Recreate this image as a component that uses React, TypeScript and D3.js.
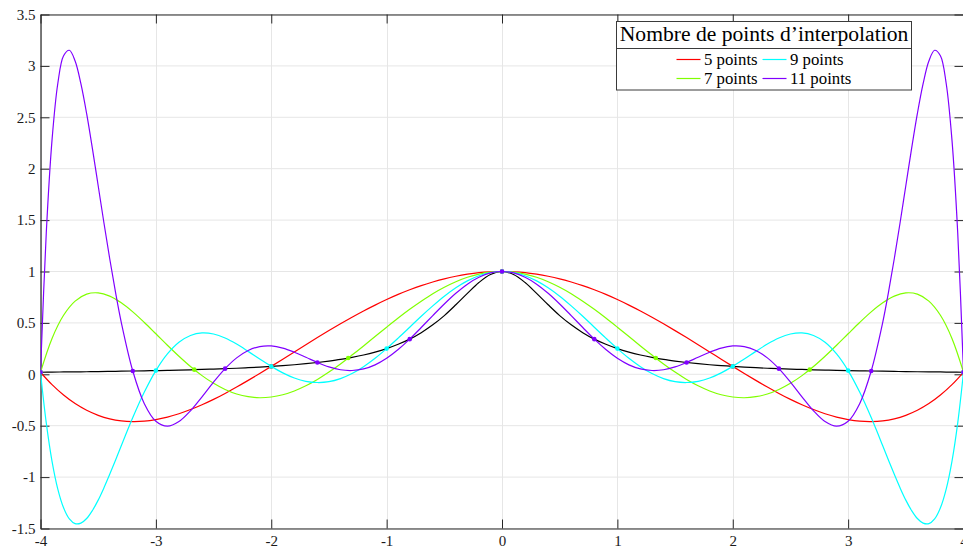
import { useEffect, useRef } from 'react'
import * as d3 from 'd3'

// abscissas for the exact function and the 5 / 7 point polynomials
const xGrid = [-4, -3.9, -3.8, -3.7, -3.6, -3.5, -3.4, -3.3, -3.2, -3.1, -3, -2.9, -2.8, -2.7, -2.6, -2.5, -2.4, -2.3, -2.2, -2.1, -2, -1.9, -1.8, -1.7, -1.6, -1.5, -1.4, -1.3, -1.2, -1.1, -1, -0.9, -0.8, -0.7, -0.6, -0.5, -0.4, -0.3, -0.2, -0.1, 0, 0.1, 0.2, 0.3, 0.4, 0.5, 0.6, 0.7, 0.8, 0.9, 1, 1.1, 1.2, 1.3, 1.4, 1.5, 1.6, 1.7, 1.8, 1.9, 2, 2.1, 2.2, 2.3, 2.4, 2.5, 2.6, 2.7, 2.8, 2.9, 3, 3.1, 3.2, 3.3, 3.4, 3.5, 3.6, 3.7, 3.8, 3.9, 4]

// finer abscissas near the edges for the 9 / 11 point polynomials
const xFine = [-4, -3.95, -3.9, -3.85, -3.8, -3.75, -3.7, -3.65, -3.6, -3.55, -3.5, -3.45, -3.4, -3.35, -3.3, -3.2, -3.1, -3, -2.9, -2.8, -2.7, -2.6, -2.5, -2.4, -2.3, -2.2, -2.1, -2, -1.9, -1.8, -1.7, -1.6, -1.5, -1.4, -1.3, -1.2, -1.1, -1, -0.9, -0.8, -0.7, -0.6, -0.5, -0.4, -0.3, -0.2, -0.1, 0, 0.1, 0.2, 0.3, 0.4, 0.5, 0.6, 0.7, 0.8, 0.9, 1, 1.1, 1.2, 1.3, 1.4, 1.5, 1.6, 1.7, 1.8, 1.9, 2, 2.1, 2.2, 2.3, 2.4, 2.5, 2.6, 2.7, 2.8, 2.9, 3, 3.1, 3.2, 3.3, 3.35, 3.4, 3.45, 3.5, 3.55, 3.6, 3.65, 3.7, 3.75, 3.8, 3.85, 3.9, 3.95, 4]

const runge = [0.020, 0.021, 0.023, 0.024, 0.025, 0.026, 0.028, 0.030, 0.032, 0.034, 0.036, 0.038, 0.041, 0.044, 0.047, 0.051, 0.055, 0.059, 0.064, 0.070, 0.077, 0.085, 0.093, 0.103, 0.115, 0.129, 0.145, 0.165, 0.188, 0.216, 0.250, 0.292, 0.342, 0.405, 0.481, 0.571, 0.676, 0.787, 0.893, 0.971, 1.000, 0.971, 0.893, 0.787, 0.676, 0.571, 0.481, 0.405, 0.342, 0.292, 0.250, 0.216, 0.188, 0.165, 0.145, 0.129, 0.115, 0.103, 0.093, 0.085, 0.077, 0.070, 0.064, 0.059, 0.055, 0.051, 0.047, 0.044, 0.041, 0.038, 0.036, 0.034, 0.032, 0.030, 0.028, 0.026, 0.025, 0.024, 0.023, 0.021, 0.020]

const interp5 = [0.020, -0.101, -0.202, -0.285, -0.350, -0.399, -0.433, -0.453, -0.460, -0.456, -0.441, -0.417, -0.384, -0.343, -0.296, -0.244, -0.186, -0.124, -0.059, 0.008, 0.077, 0.147, 0.218, 0.288, 0.357, 0.425, 0.491, 0.555, 0.616, 0.673, 0.727, 0.777, 0.822, 0.863, 0.898, 0.929, 0.954, 0.974, 0.989, 0.997, 1.000, 0.997, 0.989, 0.974, 0.954, 0.929, 0.898, 0.863, 0.822, 0.777, 0.727, 0.673, 0.616, 0.555, 0.491, 0.425, 0.357, 0.288, 0.218, 0.147, 0.077, 0.008, -0.059, -0.124, -0.186, -0.244, -0.296, -0.343, -0.384, -0.417, -0.441, -0.456, -0.460, -0.453, -0.433, -0.399, -0.350, -0.285, -0.202, -0.101, 0.020]

const interp7 = [0.020, 0.349, 0.574, 0.712, 0.780, 0.792, 0.760, 0.695, 0.607, 0.504, 0.394, 0.283, 0.176, 0.076, -0.013, -0.088, -0.148, -0.192, -0.218, -0.228, -0.221, -0.199, -0.162, -0.112, -0.050, 0.022, 0.101, 0.187, 0.276, 0.367, 0.458, 0.547, 0.632, 0.711, 0.784, 0.847, 0.901, 0.944, 0.975, 0.994, 1.000, 0.994, 0.975, 0.944, 0.901, 0.847, 0.784, 0.711, 0.632, 0.547, 0.458, 0.367, 0.276, 0.187, 0.101, 0.022, -0.050, -0.112, -0.162, -0.199, -0.221, -0.228, -0.218, -0.192, -0.148, -0.088, -0.013, 0.076, 0.176, 0.283, 0.394, 0.504, 0.607, 0.695, 0.760, 0.792, 0.780, 0.712, 0.574, 0.349, 0.020]

const interp9 = [0.020, -0.473, -0.847, -1.117, -1.299, -1.407, -1.453, -1.448, -1.403, -1.325, -1.224, -1.104, -0.973, -0.836, -0.695, -0.421, -0.173, 0.036, 0.198, 0.312, 0.378, 0.403, 0.392, 0.353, 0.294, 0.223, 0.149, 0.077, 0.014, -0.036, -0.068, -0.080, -0.072, -0.042, 0.007, 0.074, 0.156, 0.250, 0.352, 0.458, 0.565, 0.666, 0.760, 0.842, 0.909, 0.959, 0.990, 1.000, 0.990, 0.959, 0.909, 0.842, 0.760, 0.666, 0.565, 0.458, 0.352, 0.250, 0.156, 0.074, 0.007, -0.042, -0.072, -0.080, -0.068, -0.036, 0.014, 0.077, 0.149, 0.223, 0.294, 0.353, 0.392, 0.403, 0.378, 0.312, 0.198, 0.036, -0.173, -0.421, -0.695, -0.836, -0.973, -1.104, -1.224, -1.325, -1.403, -1.448, -1.453, -1.407, -1.299, -1.117, -0.847, -0.473, 0.020]

const interp11 = [0.020, 1.374, 2.280, 2.829, 3.098, 3.152, 3.048, 2.827, 2.535, 2.195, 1.834, 1.472, 1.124, 0.799, 0.506, 0.032, -0.286, -0.457, -0.505, -0.460, -0.355, -0.219, -0.076, 0.055, 0.160, 0.232, 0.270, 0.276, 0.255, 0.215, 0.166, 0.115, 0.072, 0.044, 0.037, 0.052, 0.092, 0.156, 0.241, 0.342, 0.455, 0.571, 0.684, 0.788, 0.877, 0.944, 0.986, 1.000, 0.986, 0.944, 0.877, 0.788, 0.684, 0.571, 0.455, 0.342, 0.241, 0.156, 0.092, 0.052, 0.037, 0.044, 0.072, 0.115, 0.166, 0.215, 0.255, 0.276, 0.270, 0.232, 0.160, 0.055, -0.076, -0.219, -0.355, -0.460, -0.505, -0.457, -0.286, 0.032, 0.506, 0.799, 1.124, 1.472, 1.834, 2.195, 2.535, 2.827, 3.048, 3.152, 3.098, 2.829, 2.280, 1.374, 0.020]

// interpolation nodes
const nodesX5 = [-4, -2, 0, 2, 4]
const nodesY5 = [0.020, 0.077, 1, 0.077, 0.020]
const nodesX7 = [-4, -2.667, -1.333, 0, 1.333, 2.667, 4]
const nodesY7 = [0.020, 0.045, 0.158, 1, 0.158, 0.045, 0.020]
const nodesX9 = [-4, -3, -2, -1, 0, 1, 2, 3, 4]
const nodesY9 = [0.020, 0.036, 0.077, 0.250, 1, 0.250, 0.077, 0.036, 0.020]
const nodesX11 = [-4, -3.2, -2.4, -1.6, -0.8, 0, 0.8, 1.6, 2.4, 3.2, 4]
const nodesY11 = [0.020, 0.032, 0.055, 0.115, 0.342, 1, 0.342, 0.115, 0.055, 0.032, 0.020]

const seriesNames = ['5 points', '7 points', '9 points', '11 points']
const seriesColors = ['#ff0000', '#80ff00', '#00ffff', '#8000ff']

const xTicks = [-4, -3, -2, -1, 0, 1, 2, 3, 4]
const xTickLabels = ['-4', '-3', '-2', '-1', '0', '1', '2', '3', '4']
const yTicks = [-1.5, -1, -0.5, 0, 0.5, 1, 1.5, 2, 2.5, 3, 3.5]
const yTickLabels = ['-1.5', '-1', '-0.5', '0', '0.5', '1', '1.5', '2', '2.5', '3', '3.5']

const legendTitle = 'Nombre de points d\u2019interpolation'
const FONT = "'Liberation Serif', 'Times New Roman', serif"

function RungeChart() {
  const ref = useRef<SVGSVGElement>(null)

  useEffect(() => {
    const el = ref.current
    if (!el) return
    const svg = d3.select(el)
    svg.selectAll('*').remove()

    const left = 40.5
    const right = 963.5
    const top = 14.5
    const bottom = 528.5
    const x = d3.scaleLinear().domain([-4, 4]).range([left, right])
    const y = d3.scaleLinear().domain([-1.5, 3.5]).range([bottom, top])

    svg.append('defs').append('clipPath').attr('id', 'plot-clip')
      .append('rect').attr('x', left).attr('y', top)
      .attr('width', right - left).attr('height', bottom - top)

    // grid
    const grid = svg.append('g').attr('stroke', '#e6e6e6').attr('stroke-width', 1)
    grid.selectAll('line.gx').data(xTicks).join('line').attr('class', 'gx')
      .attr('x1', (d) => Math.round(x(d)) + 0.5).attr('x2', (d) => Math.round(x(d)) + 0.5)
      .attr('y1', top).attr('y2', bottom)
    grid.selectAll('line.gy').data(yTicks).join('line').attr('class', 'gy')
      .attr('y1', (d) => y(d)).attr('y2', (d) => y(d))
      .attr('x1', left).attr('x2', right)

    // axes, ticks pointing inward
    const styleAxis = (g) => {
      g.selectAll('path').attr('stroke', '#262626').attr('stroke-width', 1.2)
      g.selectAll('line').attr('stroke', '#262626').attr('stroke-width', 1)
      g.selectAll('text').attr('font-family', FONT).attr('font-size', 15).attr('fill', '#1a1a1a')
    }
    svg.append('g').attr('transform', `translate(0,${bottom})`)
      .call(d3.axisBottom(x).tickValues(xTicks).tickFormat((d, i) => xTickLabels[i])
        .tickSizeInner(-9).tickSizeOuter(0).tickPadding(7))
      .call(styleAxis)
    svg.append('g').attr('transform', `translate(0,${top})`)
      .call(d3.axisTop(x).tickValues(xTicks).tickFormat(() => '')
        .tickSizeInner(-9).tickSizeOuter(0))
      .call(styleAxis)
    svg.append('g').attr('transform', `translate(${left},0)`)
      .call(d3.axisLeft(y).tickValues(yTicks).tickFormat((d, i) => yTickLabels[i])
        .tickSizeInner(-9).tickSizeOuter(0).tickPadding(5))
      .call(styleAxis)
    svg.append('g').attr('transform', `translate(${right},0)`)
      .call(d3.axisRight(y).tickValues(yTicks).tickFormat(() => '')
        .tickSizeInner(-9).tickSizeOuter(0))
      .call(styleAxis)

    const line = d3.line<[number, number]>()
      .x((d) => x(d[0]))
      .y((d) => y(d[1]))
      .curve(d3.curveCatmullRom.alpha(0.5))

    const plot = svg.append('g').attr('clip-path', 'url(#plot-clip)')
    plot.append('path')
      .attr('d', line(xGrid.map((v, i) => [v, runge[i]])))
      .attr('fill', 'none').attr('stroke', '#000').attr('stroke-width', 1.2)

    const series = [
      { xs: xGrid, ys: interp5, nx: nodesX5, ny: nodesY5 },
      { xs: xGrid, ys: interp7, nx: nodesX7, ny: nodesY7 },
      { xs: xFine, ys: interp9, nx: nodesX9, ny: nodesY9 },
      { xs: xFine, ys: interp11, nx: nodesX11, ny: nodesY11 },
    ]
    series.forEach((s, k) => {
      plot.append('path')
        .attr('d', line(s.xs.map((v, i) => [v, s.ys[i]])))
        .attr('fill', 'none').attr('stroke', seriesColors[k]).attr('stroke-width', 1.2)
      plot.append('g').selectAll('circle').data(s.nx).join('circle')
        .attr('cx', (d) => x(d)).attr('cy', (d, i) => y(s.ny[i]))
        .attr('r', 2.3).attr('fill', seriesColors[k])
    })

    // legend
    const lg = svg.append('g')
    lg.append('rect').attr('x', 616.5).attr('y', 21.5).attr('width', 295).attr('height', 68.5)
      .attr('fill', '#fff').attr('stroke', '#3a3a3a').attr('stroke-width', 1)
    lg.append('line').attr('x1', 616.5).attr('x2', 911.5).attr('y1', 48.5).attr('y2', 48.5)
      .attr('stroke', '#3a3a3a').attr('stroke-width', 1)
    lg.append('text').attr('x', 764).attr('y', 41).attr('text-anchor', 'middle')
      .attr('font-family', FONT).attr('font-size', 21.6).attr('fill', '#000').text(legendTitle)
    const cols = [676.5, 762.5]
    const rows = [59.5, 78.5]
    seriesNames.forEach((name, k) => {
      const cx = cols[Math.floor(k / 2)]
      const cy = rows[k % 2]
      lg.append('line').attr('x1', cx).attr('x2', cx + 24).attr('y1', cy).attr('y2', cy)
        .attr('stroke', seriesColors[k]).attr('stroke-width', 1.2)
      lg.append('text').attr('x', cx + 27.5).attr('y', cy + 5)
        .attr('font-family', FONT).attr('font-size', 16.8).attr('fill', '#000').text(name)
    })
  }, [])

  return (
    <div style={{ position: 'fixed', left: 0, top: 0, width: 963, height: 548, overflow: 'hidden', background: '#fff' }}>
      <svg ref={ref} width={963} height={548} style={{ display: 'block' }} />
    </div>
  )
}

export default function App() {
  return <RungeChart />
}
